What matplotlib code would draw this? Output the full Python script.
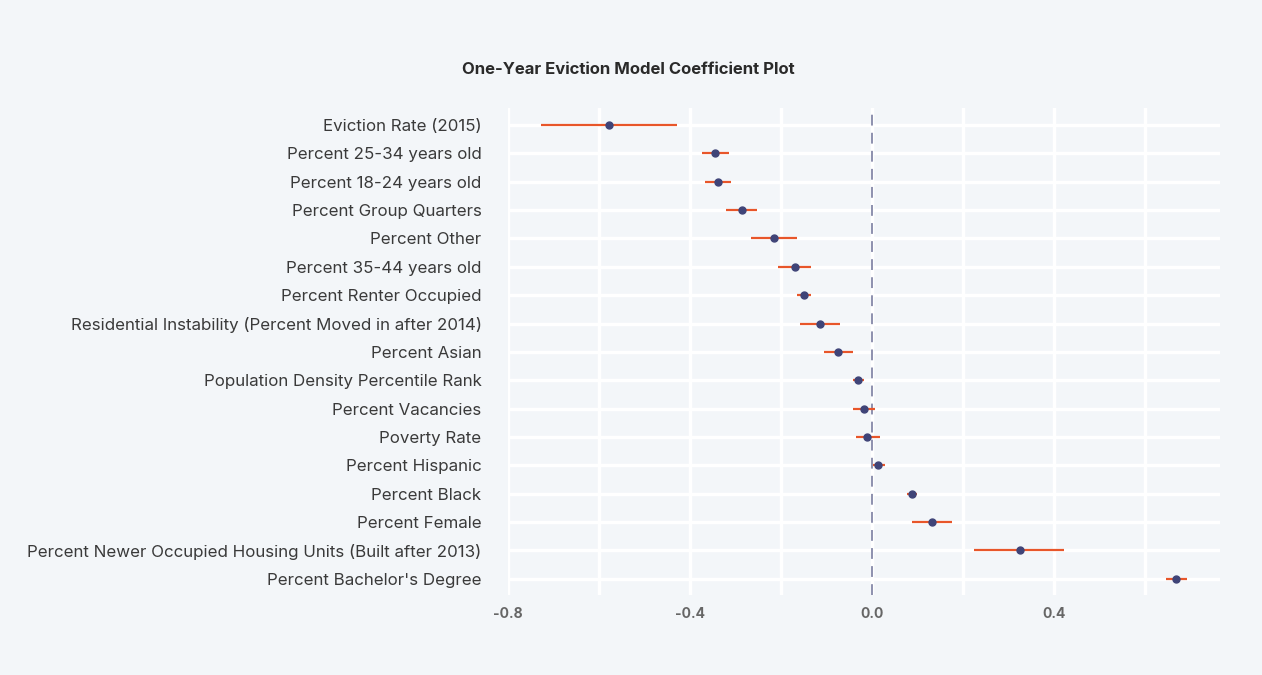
import numpy as np
import matplotlib.pyplot as plt
from matplotlib.ticker import MultipleLocator

variables = [
    'Eviction Rate (2015)',
    'Percent 25-34 years old',
    'Percent 18-24 years old',
    'Percent Group Quarters',
    'Percent Other',
    'Percent 35-44 years old',
    'Percent Renter Occupied',
    'Residential Instability (Percent Moved in after 2014)',
    'Percent Asian',
    'Population Density Percentile Rank',
    'Percent Vacancies',
    'Poverty Rate',
    'Percent Hispanic',
    'Percent Black',
    'Percent Female',
    'Percent Newer Occupied Housing Units (Built after 2013)',
    "Percent Bachelor's Degree",
]
coef = [-0.578, -0.345, -0.339, -0.286, -0.215, -0.169, -0.149, -0.114, -0.074,
        -0.030, -0.018, -0.010, 0.014, 0.089, 0.132, 0.325, 0.669]
ci_low = [-0.728, -0.374, -0.368, -0.321, -0.265, -0.206, -0.164, -0.158, -0.105,
          -0.041, -0.041, -0.035, 0.002, 0.077, 0.088, 0.224, 0.646]
ci_high = [-0.428, -0.315, -0.309, -0.253, -0.165, -0.135, -0.135, -0.070, -0.041,
           -0.017, 0.007, 0.018, 0.029, 0.099, 0.176, 0.422, 0.693]

bg = '#f3f6f9'
plt.rcParams['font.family'] = ['Inter', 'DejaVu Sans']

fig = plt.figure(figsize=(12.62, 6.75), dpi=100, facecolor=bg)
ax = fig.add_axes([508 / 1262, 1 - 595 / 675, 712 / 1262, 487 / 675])
ax.set_facecolor(bg)

y = np.arange(len(variables))
ax.hlines(y, ci_low, ci_high, color='#e8562a', lw=1.6, zorder=3)
ax.plot(coef, y, 'o', color='#3f4478', ms=5, zorder=4)
ax.axvline(0, color='#8588a8', lw=1.3, ls=(0, (6, 4)), zorder=2)

ax.set_xlim(-0.8, 0.765)
ax.set_ylim(len(variables) - 1 + 0.57, -0.6)
ax.set_yticks(y)
ax.set_yticklabels(variables, fontsize=12.2, color='#3a3a3a')
ax.xaxis.set_minor_locator(MultipleLocator(0.2))
ax.set_xticks([-0.8, -0.4, 0.0, 0.4])
ax.set_xticklabels(['-0.8', '-0.4', '0.0', '0.4'], fontsize=10, fontweight='bold', color='#666666')
ax.tick_params(axis='both', which='both', length=0)
ax.tick_params(axis='y', pad=19)
ax.tick_params(axis='x', pad=9)
ax.grid(True, which='both', axis='x', color='white', lw=2.4, zorder=1)
ax.grid(True, which='major', axis='y', color='white', lw=2.4, zorder=1)
for s in ax.spines.values():
    s.set_visible(False)

fig.text(628 / 1262, 1 - 70 / 675, 'One-Year Eviction Model Coefficient Plot',
         ha='center', va='center', fontsize=12, fontweight='bold', color='#2a2a2a')

plt.savefig('out.png', dpi=100, facecolor=bg)
